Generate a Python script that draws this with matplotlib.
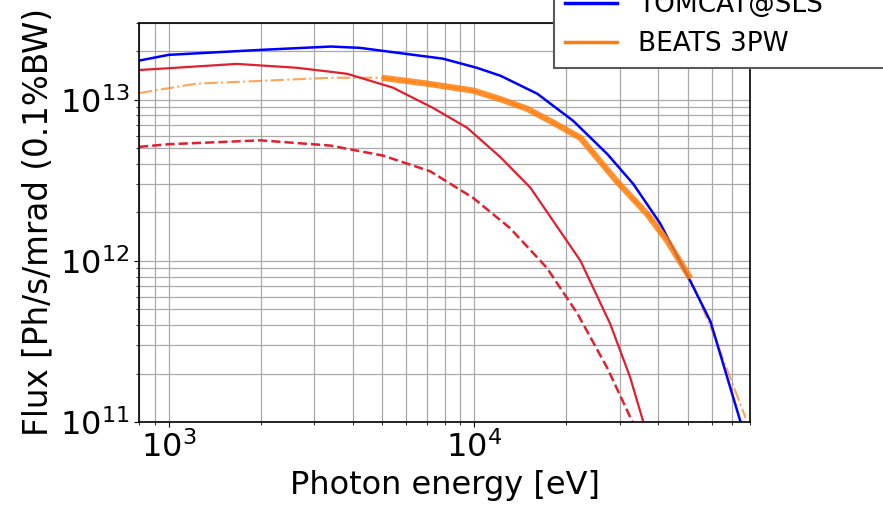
"""Photon flux versus energy for the TOMCAT and BEATS beamline sources."""

import matplotlib.pyplot as plt
from matplotlib.lines import Line2D

# TOMCAT@SLS
tomcat_e = [800, 1000, 2000, 3400, 4230, 5700, 7900, 10200, 12200, 16100,
            21100, 27300, 33200, 40700, 51000, 59400, 74500]
tomcat_f = [1.75e13, 1.9e13, 2.04e13, 2.14e13, 2.1e13, 1.95e13, 1.8e13, 1.58e13,
            1.41e13, 1.09e13, 7.4e12, 4.6e12, 3.0e12, 1.7e12, 7.5e11, 4.2e11,
            1.0e11]

# red solid
red_e = [800, 1000, 1670, 2630, 3840, 5420, 7340, 9490, 12200, 15300,
         22300, 27900, 32400, 35800]
red_f = [1.53e13, 1.57e13, 1.67e13, 1.58e13, 1.45e13, 1.19e13, 8.9e12, 6.7e12,
         4.4e12, 2.84e12, 1.0e12, 4.06e11, 1.9e11, 1.0e11]

# red dashed
redd_e = [800, 1000, 2000, 3380, 5040, 7180, 9930, 13100, 17300, 21800,
          27300, 33000]
redd_f = [5.1e12, 5.3e12, 5.6e12, 5.2e12, 4.5e12, 3.6e12, 2.46e12, 1.6e12,
          9.06e11, 4.7e11, 2.16e11, 1.0e11]

# BEATS 3PW, full range
beats_e = [800, 1235, 2000, 3380, 4990, 7010, 9930, 12170, 14900, 18200,
           22300, 29400, 36900, 42900, 51000, 60800, 77400]
beats_f = [1.1e13, 1.26e13, 1.31e13, 1.37e13, 1.37e13, 1.26e13, 1.14e13,
           1.01e13, 8.8e12, 7.2e12, 5.8e12, 3.1e12, 1.95e12, 1.33e12, 7.8e11,
           3.5e11, 1.06e11]
# index range used by the beamline (highlighted)
beats_lo, beats_hi = 4, 14

fig = plt.figure(figsize=(8.83, 5.09), dpi=100)
ax = fig.add_axes([0.1574, 0.1709, 0.8494 - 0.1574, 0.955 - 0.1709])

ax.plot(beats_e, beats_f, '-.', color='C1', lw=1.5, alpha=0.7)
ax.plot(redd_e, redd_f, '--', color='#e0202f', lw=1.8)
ax.plot(red_e, red_f, '-', color='#e0202f', lw=1.6)
ax.plot(tomcat_e, tomcat_f, '-', color='blue', lw=1.8)
ax.plot(beats_e[beats_lo:beats_hi + 1], beats_f[beats_lo:beats_hi + 1], '-',
        color='C1', lw=4.5, alpha=0.85, solid_capstyle='butt')

ax.set_xscale('log')
ax.set_yscale('log')
ax.set_xlim(800, 80000)
ax.set_ylim(1e11, 3e13)
ax.grid(which='both', color='#aaaaaa', lw=0.9)
ax.tick_params(which='major', labelsize=23)
for s in ax.spines.values():
    s.set_linewidth(1.2)

ax.set_xlabel('Photon energy [eV]', fontsize=23)
ax.set_ylabel('Flux [Ph/s/mrad (0.1%BW)', fontsize=23.5)

handles = [Line2D([], [], color='blue', lw=2.5),
           Line2D([], [], color='C1', lw=2.5)]
leg = fig.legend(handles, ['TOMCAT@SLS', 'BEATS 3PW'], fontsize=19,
                 loc='lower left', bbox_to_anchor=(554 / 883, 1 - 68 / 509, 0.5, 0.2),
                 mode='expand', borderaxespad=0, fancybox=False,
                 framealpha=1, edgecolor='0.35')
leg.get_frame().set_linewidth(1.5)

fig.savefig('out.png', dpi=100)
